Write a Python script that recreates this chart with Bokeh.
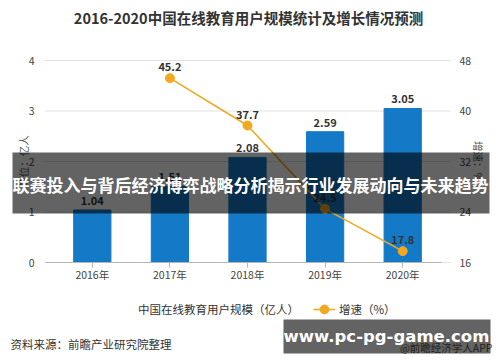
from bokeh.plotting import figure
from bokeh.models import (ColumnDataSource, Range1d, LinearAxis, FixedTicker,
                          Legend, LegendItem, Label, BoxAnnotation)
from bokeh.embed import file_html
from bokeh.resources import INLINE
from bokeh.core.properties import value

# ---- data ----
years = ["2016年", "2017年", "2018年", "2019年", "2020年"]
users = [1.04, 1.51, 2.08, 2.59, 3.05]
growth_years = ["2017年", "2018年", "2019年", "2020年"]
growth = [45.2, 37.7, 24.5, 17.8]
left_ticks = [0, 1, 2, 3, 4]
right_ticks = [16, 24, 32, 40, 48]

title_text = "2016-2020中国在线教育用户规模统计及增长情况预测"
left_label = "单位：亿人"
right_label = "增速：%"
series_bar = "中国在线教育用户规模（亿人）"
series_line = "增速（%）"
source_text = "资料来源：前瞻产业研究院整理"
credit_text = "@前瞻经济学人APP"
banner_text = "联赛投入与背后经济博弈战略分析揭示行业发展动向与未来趋势"
watermark_text = "www.pc-pg-game.com"

FONT = "Noto Sans CJK SC"
BAR = "#1479c6"
ORANGE = "#f2a81f"
TXT = "#333333"

W, H = 494, 362
# category region and vertical extent on the canvas (pixels)
PL, PR, PT, PB = 53, 441, 60, 262
GL, GR = 44, 450          # grid lines / y-axes pixel positions
ncat = len(years)
px_per_cat = (PR - PL) / ncat
pad = (W - (PR - PL)) / 2 / px_per_cat
ly0, ly1 = left_ticks[0], left_ticks[-1]
ry0, ry1 = right_ticks[0], right_ticks[-1]
lk = (PB - PT) / (ly1 - ly0)
rk = (PB - PT) / (ry1 - ry0)
gx0 = (GL - PL) / px_per_cat
gx1 = (GR - PL) / px_per_cat


def sx(px):
    return px


def sy(py):
    return H - py


p = figure(x_range=years, width=W, height=H,
           y_range=Range1d(ly0 - (H - PB) / lk, ly1 + PT / lk),
           output_backend="svg", toolbar_location=None,
           min_border=0, min_border_left=0, min_border_right=0,
           min_border_top=0, min_border_bottom=0)
p.x_range.range_padding = pad
p.x_range.range_padding_units = "absolute"
p.extra_y_ranges = {"g": Range1d(ry0 - (H - PB) / rk, ry1 + PT / rk)}
p.outline_line_color = None
p.background_fill_color = "white"
p.border_fill_color = "white"
p.xgrid.visible = False
p.ygrid.visible = False

# horizontal grid lines at the left-axis ticks
p.segment(x0=[gx0] * len(left_ticks), x1=[gx1] * len(left_ticks),
          y0=left_ticks, y1=left_ticks, line_color="#e2e2e2", line_width=1)

bar_src = ColumnDataSource(dict(x=years, top=users, lbl=[f"{v:.2f}" for v in users]))
p.vbar(x="x", top="top", width=0.48, source=bar_src, color=BAR)
p.text(x="x", y="top", text="lbl", source=bar_src, y_offset=-5,
       text_align="center", text_baseline="bottom",
       text_font=value(FONT), text_font_size="11px", text_font_style="bold",
       text_color=TXT)

g_src = ColumnDataSource(dict(x=growth_years, y=growth, lbl=[f"{v:.1f}" for v in growth]))
line_r = p.line(x="x", y="y", source=g_src, y_range_name="g",
                line_color=ORANGE, line_width=1.6)
pts_r = p.scatter(x="x", y="y", source=g_src, y_range_name="g",
                  size=9, color=ORANGE)
p.text(x="x", y="y", text="lbl", source=g_src, y_range_name="g", y_offset=-7,
       text_align="center", text_baseline="bottom",
       text_font=value(FONT), text_font_size="11px", text_font_style="bold",
       text_color=TXT)

leg_dot = p.scatter(x=[], y=[], size=10, color=BAR)

# axes drawn at fixed locations inside the canvas
xa = p.xaxis[0]
xa.fixed_location = ly0
xa.bounds = ((45 - PL) / px_per_cat, ncat)
xa.axis_line_color = "#b5b5b5"
xa.major_tick_line_color = "#b5b5b5"
xa.major_tick_out = 5
xa.major_tick_in = 0
xa.major_label_standoff = -1
xa.major_label_text_font = FONT
xa.major_label_text_font_size = "10.5px"
xa.major_label_text_color = "#444444"

ya = p.yaxis[0]
ya.ticker = FixedTicker(ticks=left_ticks)
ya.fixed_location = gx0
ya.bounds = (ly0, ly1)
ya.axis_label = left_label

ra = LinearAxis(y_range_name="g", ticker=FixedTicker(ticks=right_ticks),
                axis_label=right_label, fixed_location=gx1, bounds=(ry0, ry1))
p.add_layout(ra, "right")

for ax in (ya, ra):
    ax.axis_line_color = None
    ax.major_tick_line_color = None
    ax.minor_tick_line_color = None
    ax.major_label_text_font = FONT
    ax.major_label_text_font_size = "10.5px"
    ax.major_label_text_color = "#444444"
    ax.axis_label_text_font = FONT
    ax.axis_label_text_font_size = "10.5px"
    ax.axis_label_text_font_style = "normal"
    ax.axis_label_text_color = "#555555"
ya.major_label_standoff = 4
ra.major_label_standoff = 3
ya.axis_label_standoff = -5
ra.axis_label_standoff = -3

# legend
legend = Legend(items=[LegendItem(label=series_bar, renderers=[leg_dot]),
                       LegendItem(label=series_line, renderers=[line_r, pts_r])],
                orientation="horizontal", location=(sx(112), sy(321)),
                margin=0, padding=5, spacing=14,
                glyph_width=22, glyph_height=24, label_standoff=4,
                label_text_font=FONT, label_text_font_size="11.5px",
                label_text_color=TXT, border_line_color=None,
                background_fill_alpha=0)
p.add_layout(legend)

# title and notes
p.add_layout(Label(x=sx(248), y=sy(17), x_units="screen", y_units="screen",
                   text=title_text, text_align="center", text_baseline="middle",
                   text_font=FONT, text_font_size="14.5px", text_font_style="bold",
                   text_color=TXT))
p.add_layout(Label(x=sx(10), y=sy(343), x_units="screen", y_units="screen",
                   text=source_text, text_align="left", text_baseline="middle",
                   text_font=FONT, text_font_size="11.5px", text_color=TXT))
p.add_layout(Label(x=sx(492), y=sy(347), x_units="screen", y_units="screen",
                   text=credit_text, text_align="right", text_baseline="middle",
                   text_font=FONT, text_font_size="10.5px", text_color="#555555"))

# overlays
p.add_layout(BoxAnnotation(left=sx(12), right=sx(489), top=sy(152), bottom=sy(213),
                           left_units="screen", right_units="screen",
                           top_units="screen", bottom_units="screen",
                           fill_color="black", fill_alpha=0.61, line_color=None,
                           level="overlay"))
p.add_layout(Label(x=sx(250), y=sy(184), x_units="screen", y_units="screen",
                   text=banner_text, text_align="center", text_baseline="middle",
                   text_font=FONT, text_font_size="17px", text_font_style="bold",
                   text_color="white", level="overlay"))
p.add_layout(BoxAnnotation(left=sx(283), right=sx(490), top=sy(319), bottom=sy(353),
                           left_units="screen", right_units="screen",
                           top_units="screen", bottom_units="screen",
                           fill_color="black", fill_alpha=0.61, line_color=None,
                           level="overlay"))
p.add_layout(Label(x=sx(386), y=sy(336), x_units="screen", y_units="screen",
                   text=watermark_text, text_align="center", text_baseline="middle",
                   text_font="DejaVu Sans", text_font_size="16.5px", text_font_style="bold",
                   text_color="white", level="overlay"))

open("out.html", "w").write(file_html(p, INLINE))
